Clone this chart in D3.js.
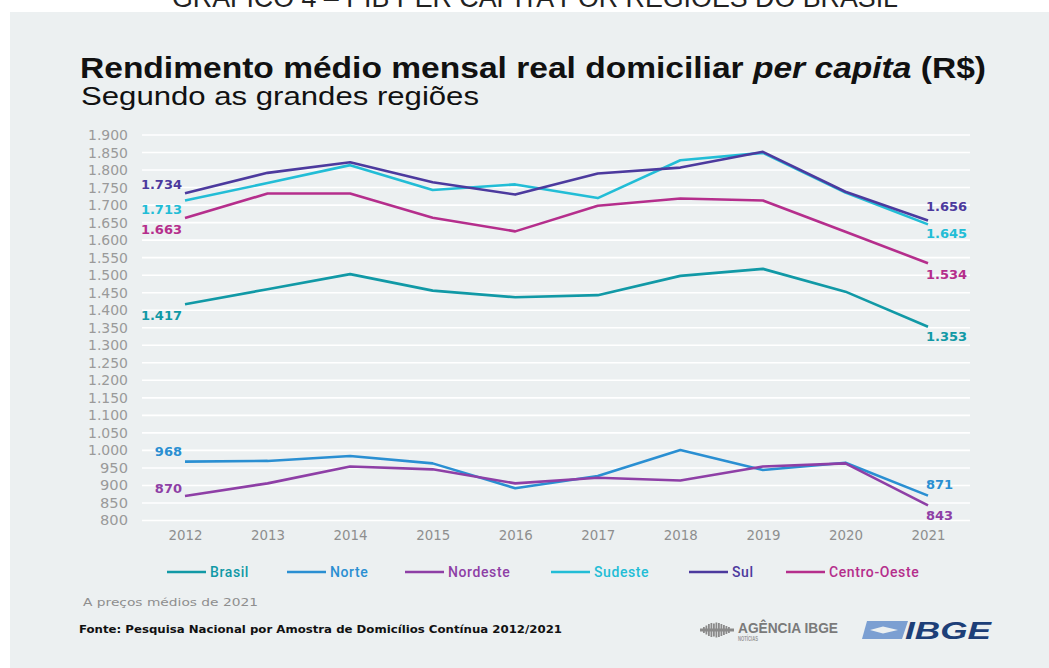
<!DOCTYPE html>
<html>
<head>
<meta charset="utf-8">
<script src="https://cdn.jsdelivr.net/npm/d3@7"></script>
<style>
  body { margin: 0; background: #fff; }
  svg { display: block; }
</style>
</head>
<body>
<div id="chart"></div>
<script>
const years = [2012, 2013, 2014, 2015, 2016, 2017, 2018, 2019, 2020, 2021];
const yTicks = d3.range(800, 1901, 50);

const brasil      = [1417, 1460, 1503, 1456, 1437, 1443, 1498, 1518, 1453, 1353];
const norte       = [968, 970, 984, 963, 892, 927, 1001, 944, 965, 871];
const nordeste    = [870, 906, 954, 946, 906, 922, 914, 954, 963, 843];
const sudeste     = [1713, 1763, 1814, 1743, 1759, 1720, 1828, 1849, 1736, 1645];
const sul         = [1734, 1792, 1822, 1765, 1730, 1790, 1807, 1852, 1738, 1656];
const centroOeste = [1663, 1733, 1733, 1664, 1625, 1698, 1719, 1713, 1624, 1534];

const seriesNames = ["Brasil", "Norte", "Nordeste", "Sudeste", "Sul", "Centro-Oeste"];
const seriesValues = [brasil, norte, nordeste, sudeste, sul, centroOeste];
const seriesColors = ["#1199a6", "#2a8fd2", "#8e3fa6", "#22bdd6", "#4c3a9e", "#b52e8c"];

const width = 1049, height = 668;
const fmt = v => d3.format(",")(v).replace(/,/g, ".");

const svg = d3.select("#chart").append("svg")
    .attr("width", width)
    .attr("height", height);

// header, cut by the top of the page like in the scan
svg.append("text")
    .attr("x", 535).attr("y", 7)
    .attr("text-anchor", "middle")
    .attr("textLength", 726).attr("lengthAdjust", "spacingAndGlyphs")
    .style("font", "300 27px 'Liberation Sans', sans-serif")
    .style("fill", "#222")
    .text("GRÁFICO 4 – PIB PER CAPITA POR REGIÕES DO BRASIL");

// panel
svg.append("rect")
    .attr("x", 10).attr("y", 12)
    .attr("width", width - 10).attr("height", height - 12)
    .attr("fill", "#ecf0f1");

// title
const title = svg.append("text")
    .attr("x", 80).attr("y", 78)
    .attr("textLength", 906).attr("lengthAdjust", "spacingAndGlyphs")
    .style("font", "bold 29px 'Liberation Sans', sans-serif")
    .style("fill", "#111");
title.append("tspan").text("Rendimento médio mensal real domiciliar ");
title.append("tspan").style("font-style", "italic").text("per capita");
title.append("tspan").text(" (R$)");

svg.append("text")
    .attr("x", 81).attr("y", 105)
    .attr("textLength", 398).attr("lengthAdjust", "spacingAndGlyphs")
    .style("font", "25px 'Liberation Sans', sans-serif")
    .style("fill", "#111")
    .text("Segundo as grandes regiões");

// scales
const x = d3.scalePoint().domain(years).range([185, 928]);
const y = d3.scaleLinear().domain([800, 1900]).range([520.5, 135]);

// grid
svg.append("g")
    .selectAll("line")
    .data(yTicks)
    .join("line")
    .attr("x1", 142).attr("x2", 970)
    .attr("y1", d => y(d)).attr("y2", d => y(d))
    .attr("stroke", "#fff")
    .attr("stroke-width", 1.6);

// y axis
const yAxis = svg.append("g")
    .attr("transform", "translate(128,0)")
    .call(d3.axisLeft(y).tickValues(yTicks).tickSize(0).tickPadding(0).tickFormat(fmt));
yAxis.select(".domain").remove();
yAxis.selectAll("text")
    .style("font", "14px 'DejaVu Sans', sans-serif")
    .style("fill", "#9a9a9a")
    .attr("textLength", d => d >= 1000 ? 40 : 28)
    .attr("lengthAdjust", "spacingAndGlyphs");

// x axis
const xAxis = svg.append("g")
    .attr("transform", "translate(0,527)")
    .call(d3.axisBottom(x).tickSize(0).tickPadding(0));
xAxis.select(".domain").remove();
xAxis.selectAll("text")
    .attr("dy", "0.9em")
    .style("font", "14px 'DejaVu Sans', sans-serif")
    .style("fill", "#8e8e8e")
    .attr("textLength", 34)
    .attr("lengthAdjust", "spacingAndGlyphs");

// lines
const line = d3.line()
    .x((d, i) => x(years[i]))
    .y(d => y(d));

const order = [0, 1, 2, 5, 3, 4];
svg.append("g")
    .selectAll("path")
    .data(order)
    .join("path")
    .attr("d", i => line(seriesValues[i]))
    .attr("fill", "none")
    .attr("stroke", i => seriesColors[i])
    .attr("stroke-width", 2.6)
    .attr("stroke-linejoin", "round");

// first and last value labels (vertical offset from the line end)
const labelOffsets = [
  { left: 11, right: 10 },   // Brasil
  { left: -10, right: -11 }, // Norte
  { left: -8, right: 10 },   // Nordeste
  { left: 9, right: 9 },     // Sudeste
  { left: -9, right: -14 },  // Sul
  { left: 11, right: 11 }    // Centro-Oeste
];
const labels = svg.append("g")
    .style("font", "bold 13px 'DejaVu Sans', sans-serif");
seriesValues.forEach((vals, i) => {
  const first = vals[0], last = vals[vals.length - 1];
  labels.append("text")
      .attr("x", x(years[0]) - 3)
      .attr("y", y(first) + labelOffsets[i].left)
      .attr("dy", "0.35em")
      .attr("text-anchor", "end")
      .attr("fill", seriesColors[i])
      .text(fmt(first));
  labels.append("text")
      .attr("x", x(years[years.length - 1]) - 2)
      .attr("y", y(last) + labelOffsets[i].right)
      .attr("dy", "0.35em")
      .attr("fill", seriesColors[i])
      .text(fmt(last));
});

// legend
const legendX = [167, 287, 405, 551, 689, 786];
const legend = svg.append("g")
    .selectAll("g")
    .data(seriesNames)
    .join("g")
    .attr("transform", (d, i) => `translate(${legendX[i]},572)`);
legend.append("line")
    .attr("x1", 0).attr("x2", 39)
    .attr("stroke", (d, i) => seriesColors[i])
    .attr("stroke-width", 2.4);
legend.append("text")
    .attr("x", 43).attr("dy", "0.35em")
    .style("font", "500 14px 'Roboto', sans-serif")
    .style("letter-spacing", "0.6px")
    .attr("fill", (d, i) => seriesColors[i])
    .text(d => d);

// notes
svg.append("text")
    .attr("x", 83).attr("y", 606)
    .style("font", "11px 'DejaVu Sans', sans-serif")
    .style("fill", "#8e8e8e")
    .attr("textLength", 175).attr("lengthAdjust", "spacingAndGlyphs")
    .text("A preços médios de 2021");

svg.append("text")
    .attr("x", 79).attr("y", 633)
    .style("font", "bold 11px 'DejaVu Sans', sans-serif")
    .style("fill", "#111")
    .attr("textLength", 483).attr("lengthAdjust", "spacingAndGlyphs")
    .text("Fonte: Pesquisa Nacional por Amostra de Domicílios Contínua 2012/2021");

// Agência IBGE logo
const ag = svg.append("g").attr("transform", "translate(700,620)");
const barH = [6, 9, 12, 14, 13, 15, 14, 12, 10, 8, 6];
ag.selectAll("rect.b")
    .data(barH)
    .join("rect")
    .attr("class", "b")
    .attr("x", (d, i) => 3 + i * 2.5)
    .attr("y", d => 10 - d / 2)
    .attr("width", 1.8)
    .attr("height", d => d)
    .attr("fill", "#8a8a8a");
ag.append("rect").attr("x", 0).attr("y", 8.5).attr("width", 34).attr("height", 3).attr("fill", "#8a8a8a");
ag.append("text")
    .attr("x", 38).attr("y", 13)
    .style("font", "bold 15px 'Liberation Sans', sans-serif")
    .style("fill", "#7a7a7a")
    .attr("textLength", 100).attr("lengthAdjust", "spacingAndGlyphs")
    .text("AGÊNCIA IBGE");
ag.append("text")
    .attr("x", 38).attr("y", 21)
    .style("font", "bold 7px 'Liberation Sans', sans-serif")
    .style("fill", "#9a9a9a")
    .attr("textLength", 20).attr("lengthAdjust", "spacingAndGlyphs")
    .text("NOTÍCIAS");

// IBGE logo
const ib = svg.append("g").attr("transform", "translate(862,621)");
ib.append("path")
    .attr("d", "M5,0 L46,0 L40,18 L0,18 Z")
    .attr("fill", "#7b9fd2");
ib.append("path")
    .attr("d", "M8,9 L21,5.5 L36,9 L21,12.5 Z")
    .attr("fill", "#ecf0f1");
ib.append("text")
    .attr("x", 43).attr("y", 18)
    .style("font", "italic 900 23px 'Liberation Sans', sans-serif")
    .style("fill", "#1d3f78")
    .attr("textLength", 86).attr("lengthAdjust", "spacingAndGlyphs")
    .text("IBGE");
</script>
</body>
</html>
